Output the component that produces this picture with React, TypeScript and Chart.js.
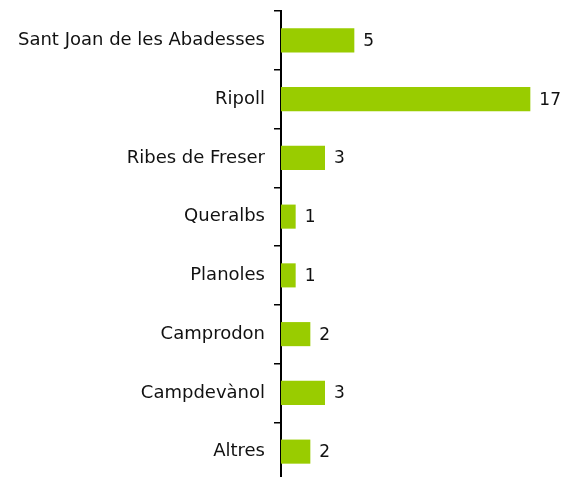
import React, { useEffect, useRef } from "react";
import { Chart, registerables } from "chart.js";

Chart.register(...registerables);

const categories = [
  "Sant Joan de les Abadesses",
  "Ripoll",
  "Ribes de Freser",
  "Queralbs",
  "Planoles",
  "Camprodon",
  "Campdevànol",
  "Altres",
];
const values = [5, 17, 3, 1, 1, 2, 3, 2];

const FONT = "'DejaVu Sans', sans-serif";

const valueLabels = {
  id: "valueLabels",
  afterDatasetsDraw(chart: any) {
    const ctx = chart.ctx;
    const meta = chart.getDatasetMeta(0);
    ctx.save();
    ctx.fillStyle = "#111";
    ctx.font = `17px ${FONT}`;
    ctx.textAlign = "left";
    ctx.textBaseline = "middle";
    meta.data.forEach((bar: any, i: number) => {
      ctx.fillText(String(values[i]), bar.x + 9, bar.y + 1);
    });
    ctx.restore();
  },
};

export default function App() {
  const ref = useRef<HTMLCanvasElement>(null);
  useEffect(() => {
    const chart = new Chart(ref.current!, {
      type: "bar",
      data: {
        labels: categories,
        datasets: [
          {
            data: values,
            backgroundColor: "#99CC00",
            barPercentage: 1,
            categoryPercentage: 0.41,
          },
        ],
      },
      options: {
        indexAxis: "y",
        animation: false,
        responsive: false,
        layout: { padding: { top: 11, bottom: 0, left: 0, right: 18 } },
        plugins: { legend: { display: false }, tooltip: { enabled: false } },
        scales: {
          x: { display: false, min: 0, max: 18 },
          y: {
            afterFit: (s: any) => {
              s.width = 281;
              s.paddingTop = 0;
              s.paddingBottom = 0;
            },
            border: { display: true, color: "#000", width: 2 },
            grid: {
              display: true,
              drawOnChartArea: false,
              drawTicks: true,
              tickLength: 7,
              color: "#000",
              lineWidth: 1.5,
              offset: true,
            },
            ticks: {
              color: "#111",
              padding: 9,
              font: { family: FONT, size: 18 },
            },
          },
        },
      },
      plugins: [valueLabels],
    });
    return () => chart.destroy();
  }, []);
  return (
    <div
      style={{
        position: "fixed",
        left: 0,
        top: 0,
        width: 563,
        height: 477,
        overflow: "hidden",
      }}
    >
      <canvas ref={ref} width={563} height={481} style={{ display: "block" }} />
    </div>
  );
}
